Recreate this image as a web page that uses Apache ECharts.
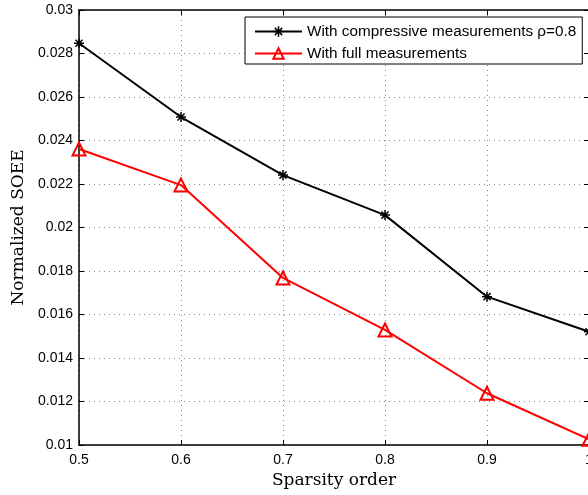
<!DOCTYPE html>
<html><head><meta charset="utf-8">
<script src="https://cdn.jsdelivr.net/npm/echarts@6/dist/echarts.min.js"></script>
<style>html,body{margin:0;padding:0;background:#fff}#c{width:588px;height:495px}</style>
</head><body><div id="c"></div>
<script>
const xCategories = [0.5, 0.6, 0.7, 0.8, 0.9, 1.0];
const compressive = [0.02847, 0.02508, 0.02241, 0.02057, 0.01682, 0.01521];
const full = [0.02361, 0.02195, 0.01768, 0.01529, 0.01238, 0.01026];
const seriesNames = ['With compressive measurements \u03c1=0.8', 'With full measurements'];
const yTicks = {min: 0.01, max: 0.03, interval: 0.002};
const xTicks = {min: 0.5, max: 1.0, interval: 0.1};

const star = 'path://M-0.15,-1 L0.15,-1 L0.15,-0.36 L0.6,-0.81 L0.81,-0.6 L0.36,-0.15 L1,-0.15 L1,0.15 L0.36,0.15 L0.81,0.6 L0.6,0.81 L0.15,0.36 L0.15,1 L-0.15,1 L-0.15,0.36 L-0.6,0.81 L-0.81,0.6 L-0.36,0.15 L-1,0.15 L-1,-0.15 L-0.36,-0.15 L-0.81,-0.6 L-0.6,-0.81 L-0.15,-0.36 Z';

const fmtY = v => String(Number(v.toFixed(4)));
const fmtX = v => String(Number(v.toFixed(2)));
const lab = {fontFamily: 'Liberation Sans, Arial, sans-serif', fontSize: 14, color: '#000'};
const titleFont = {fontFamily: 'DejaVu Serif, serif', fontSize: 17, color: '#000'};
const chart = echarts.init(document.getElementById('c'), null, {renderer: 'canvas'});
chart.setOption({
  animation: false,
  backgroundColor: '#fff',
  grid: {left: 79, top: 10, width: 510, height: 435, show: false, containLabel: false, outerBoundsMode: 'none'},
  legend: {
    orient: 'vertical', left: 245, top: 17,
    backgroundColor: '#fff', borderColor: '#000', borderWidth: 1,
    padding: [7, 6, 3, 9], itemGap: 7, itemWidth: 47, itemHeight: 13,
    textStyle: {fontFamily: 'Liberation Sans, Arial, sans-serif', fontSize: 15.3, color: '#000'},
    data: seriesNames
  },
  xAxis: [{
    type: 'value', min: xTicks.min, max: xTicks.max, interval: xTicks.interval,
    name: 'Sparsity order', nameLocation: 'middle', nameGap: 26,
    nameTextStyle: titleFont,
    axisLine: {onZero: false, lineStyle: {color: '#000', width: 1.5}},
    axisTick: {inside: true, length: 5, lineStyle: {color: '#000'}},
    axisLabel: Object.assign({margin: 8, formatter: fmtX}, lab),
    splitLine: {show: true, lineStyle: {color: '#888', type: [1, 4], width: 1}}
  }, {
    type: 'value', position: 'top', min: xTicks.min, max: xTicks.max, interval: xTicks.interval,
    axisLine: {onZero: false, lineStyle: {color: '#000', width: 1.5}},
    axisTick: {inside: true, length: 5, lineStyle: {color: '#000'}},
    axisLabel: {show: false}, splitLine: {show: false}
  }],
  yAxis: [{
    type: 'value', min: yTicks.min, max: yTicks.max, interval: yTicks.interval,
    name: 'Normalized SOEE', nameLocation: 'middle', nameGap: 49,
    nameTextStyle: titleFont,
    axisLine: {onZero: false, lineStyle: {color: '#000', width: 1.5}},
    axisTick: {inside: true, length: 5, lineStyle: {color: '#000'}},
    axisLabel: Object.assign({margin: 6, formatter: fmtY}, lab),
    splitLine: {show: true, lineStyle: {color: '#888', type: [1, 4], width: 1}}
  }, {
    type: 'value', position: 'right', min: yTicks.min, max: yTicks.max, interval: yTicks.interval,
    axisLine: {onZero: false, lineStyle: {color: '#000', width: 1.5}},
    axisTick: {inside: true, length: 5, lineStyle: {color: '#000'}},
    axisLabel: {show: false}, splitLine: {show: false}
  }],
  series: [{
    name: seriesNames[0], type: 'line',
    data: xCategories.map((x, i) => [x, compressive[i]]),
    symbol: star, symbolSize: 10, showAllSymbol: true,
    lineStyle: {color: '#000', width: 2},
    itemStyle: {color: '#000', borderColor: '#000', borderWidth: 0}
  }, {
    name: seriesNames[1], type: 'line',
    data: xCategories.map((x, i) => [x, full[i]]),
    symbol: 'triangle', symbolSize: 13, showAllSymbol: true,
    lineStyle: {color: '#f00', width: 2},
    itemStyle: {color: 'rgba(255,255,255,0)', borderColor: '#f00', borderWidth: 2}
  }]
});
</script></body></html>
